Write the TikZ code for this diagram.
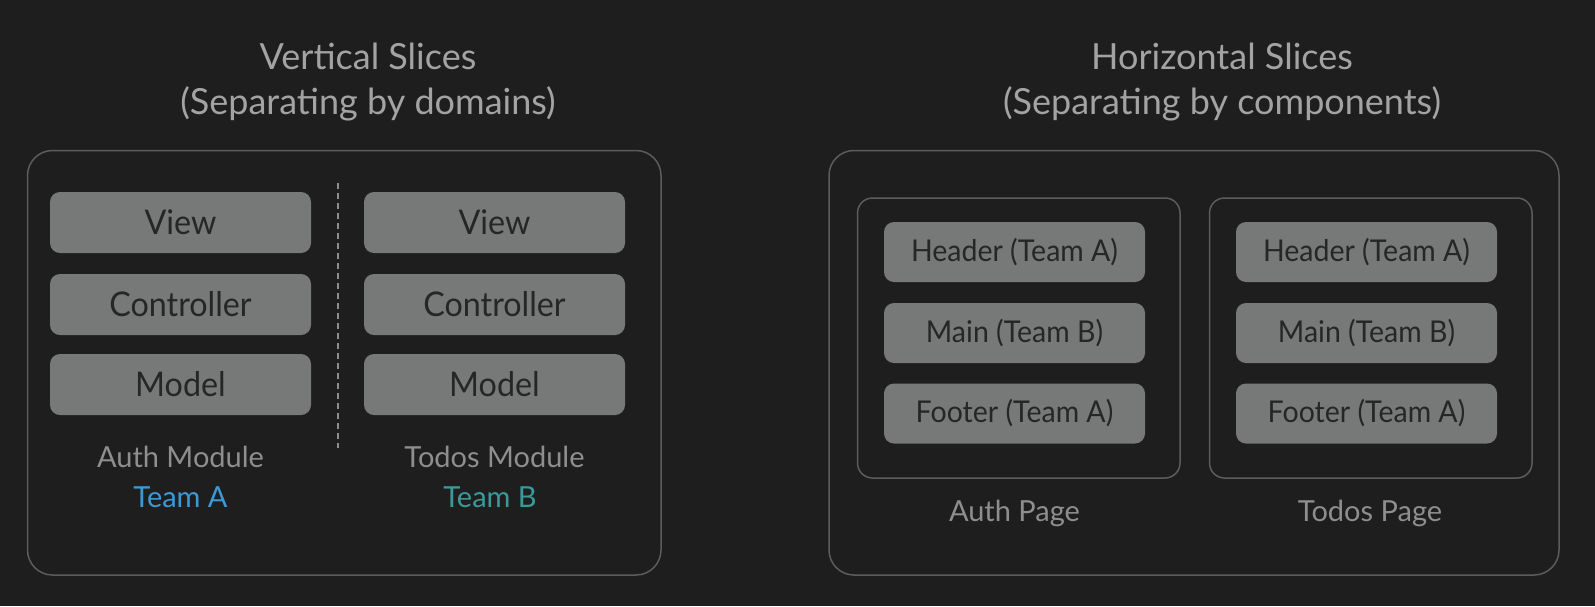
\documentclass[tikz,border=0pt]{standalone}
\usepackage{fontspec}
\setmainfont{Lato}
\newfontfamily\narrowfont[FakeStretch=0.95]{Lato}
\usetikzlibrary{positioning}

\definecolor{bgdark}{HTML}{1E1E1E}
\definecolor{boxgray}{HTML}{767977}
\definecolor{boxtext}{HTML}{262626}
\definecolor{framegray}{HTML}{5C5C5C}
\definecolor{titlegray}{HTML}{A3A3A3}
\definecolor{labelgray}{HTML}{8E8E8E}
\definecolor{teamablue}{HTML}{3A9AD8}
\definecolor{teambteal}{HTML}{3B9A99}

\tikzset{
  layer/.style={fill=boxgray, rounded corners=10pt, minimum width=261pt, minimum height=61pt,
    inner sep=0pt, text=boxtext, font=\narrowfont\fontsize{34}{40}\selectfont},
  part/.style={layer, minimum height=60pt, font=\narrowfont\fontsize{30}{36}\selectfont},
  title/.style={text=titlegray, align=center, font=\fontsize{36}{45}\selectfont},
  caption/.style={text=labelgray, font=\fontsize{29}{34}\selectfont},
  frame/.style={draw=framegray, line width=1.5pt},
}

\begin{document}
\begin{tikzpicture}[x=1pt, y=-1pt]
  \fill[bgdark] (0,0) rectangle (1595,606);
  \useasboundingbox (0,0) rectangle (1595,606);

  % vertical slices
  \begin{scope}
    \node[title] (vtitle) at (368,82) {Vertical Slices\\(Separating by domains)};
    \draw[frame, rounded corners=25pt] (27.5,150.5) rectangle (661,575);

    \node[layer] (aview) at (180.5,222.5) {View};
    \node[layer] (actrl) at (180.5,304.5) {Controller};
    \node[layer] (amodel) at (180.5,384.5) {Model};
    \node[caption] (amod) at (180.5,457) {Auth Module};
    \node[caption, text=teamablue] (ateam) at (180.5,497) {Team A};

    \draw[labelgray, line width=2pt, dash pattern=on 6pt off 4pt] (338,183) -- (338,448);

    \node[layer] (tview) at (494.5,222.5) {View};
    \node[layer] (tctrl) at (494.5,304.5) {Controller};
    \node[layer] (tmodel) at (494.5,384.5) {Model};
    \node[caption] (tmod) at (494.5,457) {Todos Module};
    \node[caption, text=teambteal] (tteam) at (490,497) {Team B};
  \end{scope}

  % horizontal slices
  \begin{scope}
    \node[title] (htitle) at (1222,82) {Horizontal Slices\\(Separating by components)};
    \draw[frame, rounded corners=25pt] (829,150.5) rectangle (1559,575);

    \draw[frame, rounded corners=15pt] (857.5,198) rectangle (1180,478);
    \node[part] (ahead) at (1014.5,252) {Header (Team A)};
    \node[part] (amain) at (1014.5,333) {Main (Team B)};
    \node[part] (afoot) at (1014.5,413.5) {Footer (Team A)};
    \node[caption] (apage) at (1014.5,513) {Auth Page};

    \draw[frame, rounded corners=15pt] (1209.5,198) rectangle (1532,478);
    \node[part] (thead) at (1366.5,252) {Header (Team A)};
    \node[part] (tmain) at (1366.5,333) {Main (Team B)};
    \node[part] (tfoot) at (1366.5,413.5) {Footer (Team A)};
    \node[caption] (tpage) at (1370,513) {Todos Page};
  \end{scope}
\end{tikzpicture}
\end{document}
